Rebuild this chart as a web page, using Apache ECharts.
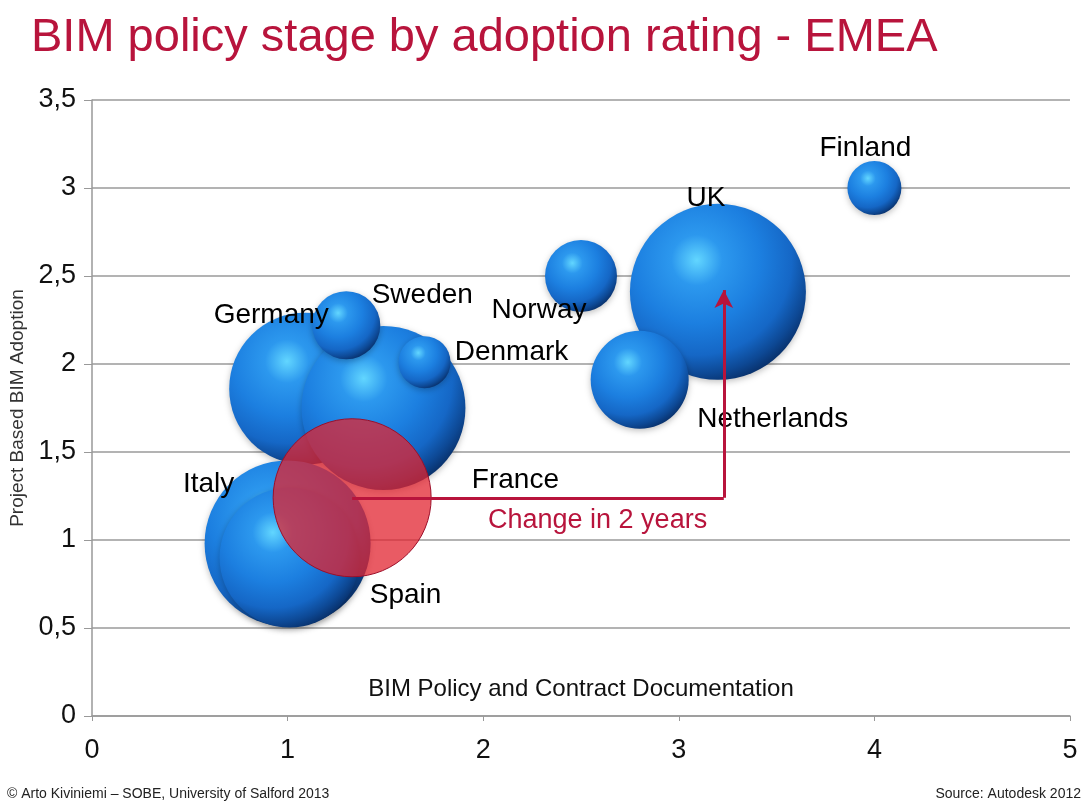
<!DOCTYPE html>
<html>
<head>
<meta charset="utf-8">
<script src="https://cdn.jsdelivr.net/npm/echarts@6/dist/echarts.min.js"></script>
<style>
  html, body { margin: 0; padding: 0; background: #fff; }
  #chart { width: 1089px; height: 807px; }
</style>
</head>
<body>
<div id="chart"></div>
<script>
// countries, drawn back to front
var countries = ['Germany', 'France', 'Sweden', 'Denmark', 'Italy', 'Spain', 'Norway', 'UK', 'Netherlands', 'Finland'];
var policyStage = [1.09, 1.49, 1.30, 1.70, 1.00, 1.01, 2.50, 3.20, 2.80, 4.00];
var adoption    = [1.86, 1.75, 2.22, 2.01, 0.98, 0.90, 2.50, 2.41, 1.91, 3.00];
var bubbleSize  = [7.6, 8.2, 3.4, 2.6, 8.3, 7.0, 3.6, 8.8, 4.9, 2.7];

// the red "2 years ago" bubble and where it moved to
var pastPoint = [1.33, 1.24];
var pastSize = 7.9;
var nowPoint = [3.23, 2.42];

var xTicks = [0, 5, 1];      // min, max, interval
var yTicks = [0, 3.5, 0.5];

// where each country name sits, relative to its bubble centre
var labelOffset = {
  Finland: [-9, -40], UK: [-12, -94], Norway: [-42, 34], Netherlands: [133, 39],
  Sweden: [76, -30], Germany: [-34, -73], Denmark: [87, -10], France: [132, 72],
  Italy: [-79, -59], Spain: [116, 38]
};

var chart = echarts.init(document.getElementById('chart'));
var font = '"Liberation Sans", Arial, sans-serif';
var crimson = '#b8143c';

var sphere = {
  type: 'radial', x: 0.38, y: 0.32, r: 0.72,
  colorStops: [
    { offset: 0, color: '#62d6ff' },
    { offset: 0.2, color: '#2c98ee' },
    { offset: 0.5, color: '#1c7fe0' },
    { offset: 0.75, color: '#1567c6' },
    { offset: 0.9, color: '#0d4894' },
    { offset: 1, color: '#08306a' }
  ]
};

var bubbles = countries.map(function (name, i) {
  return {
    name: name,
    value: [policyStage[i], adoption[i], bubbleSize[i]],
    label: { offset: labelOffset[name] }
  };
});

var option = {
  animation: false,
  title: [
    { text: 'BIM policy stage by adoption rating - EMEA', left: 26, top: 10,
      textStyle: { color: crimson, fontSize: 47, fontWeight: 'normal', fontFamily: font } },
    { text: '© Arto Kiviniemi – SOBE, University of Salford 2013', left: 2, bottom: 1,
      textStyle: { color: '#222', fontSize: 14, fontWeight: 'normal', fontFamily: font } },
    { text: 'Source: Autodesk 2012', right: 3, bottom: 1,
      textStyle: { color: '#222', fontSize: 14, fontWeight: 'normal', fontFamily: font } }
  ],
  grid: { left: 92, right: 19, top: 100, bottom: 91, outerBoundsMode: 'none', containLabel: false },
  xAxis: {
    type: 'value', min: xTicks[0], max: xTicks[1], interval: xTicks[2],
    name: 'BIM Policy and Contract Documentation',
    nameLocation: 'middle', nameGap: -39,
    nameTextStyle: { color: '#111', fontSize: 24, fontFamily: font },
    axisLine: { lineStyle: { color: '#999', width: 1.5 } },
    axisTick: { show: true, length: 5, lineStyle: { color: '#999' } },
    splitLine: { show: false },
    axisLabel: { color: '#111', fontSize: 27, fontFamily: font, margin: 21 }
  },
  yAxis: {
    type: 'value', min: yTicks[0], max: yTicks[1], interval: yTicks[2],
    name: 'Project Based BIM Adoption',
    nameLocation: 'middle', nameRotate: 90, nameGap: 63,
    nameTextStyle: { color: '#333', fontSize: 19, fontFamily: font },
    axisLine: { show: true, lineStyle: { color: '#999', width: 1.5 } },
    axisTick: { show: true, length: 8, lineStyle: { color: '#999' } },
    splitLine: { show: true, lineStyle: { color: '#9a9a9a', width: 1.5 } },
    axisLabel: {
      color: '#111', fontSize: 27, fontFamily: font, margin: 16,
      formatter: function (v) { return String(v).replace('.', ','); }
    }
  },
  graphic: [
    { type: 'text', left: 488, top: 507,
      style: { text: 'Change in 2 years', fill: crimson, font: '27px ' + font } }
  ],
  series: [
    {
      type: 'scatter',
      data: bubbles,
      symbolSize: function (v) { return v[2] * 20; },
      itemStyle: {
        color: sphere, opacity: 1,
        shadowColor: 'rgba(0,0,0,0.25)', shadowBlur: 6, shadowOffsetY: 2
      },
      label: {
        show: true, position: 'inside',
        formatter: '{b}', color: '#000', fontSize: 28, fontFamily: font
      },
      emphasis: { disabled: true }
    },
    {
      type: 'scatter',
      z: 3,
      data: [[pastPoint[0], pastPoint[1], pastSize]],
      symbolSize: function (v) { return v[2] * 20; },
      itemStyle: { color: 'rgba(226,36,48,0.75)', borderColor: '#9c0f2a', borderWidth: 1, opacity: 1 },
      emphasis: { disabled: true }
    },
    {
      type: 'line',
      z: 4,
      data: [],
      markLine: {
        silent: true,
        animation: false,
        label: { show: false },
        lineStyle: { color: crimson, width: 3, type: 'solid' },
        symbolSize: [14, 18],
        data: [
          [{ coord: pastPoint, symbol: 'none' }, { coord: [nowPoint[0], pastPoint[1]], symbol: 'none' }],
          [{ coord: [nowPoint[0], pastPoint[1]], symbol: 'none' }, { coord: nowPoint, symbol: 'arrow' }]
        ]
      }
    }
  ]
};

chart.setOption(option);
</script>
</body>
</html>
